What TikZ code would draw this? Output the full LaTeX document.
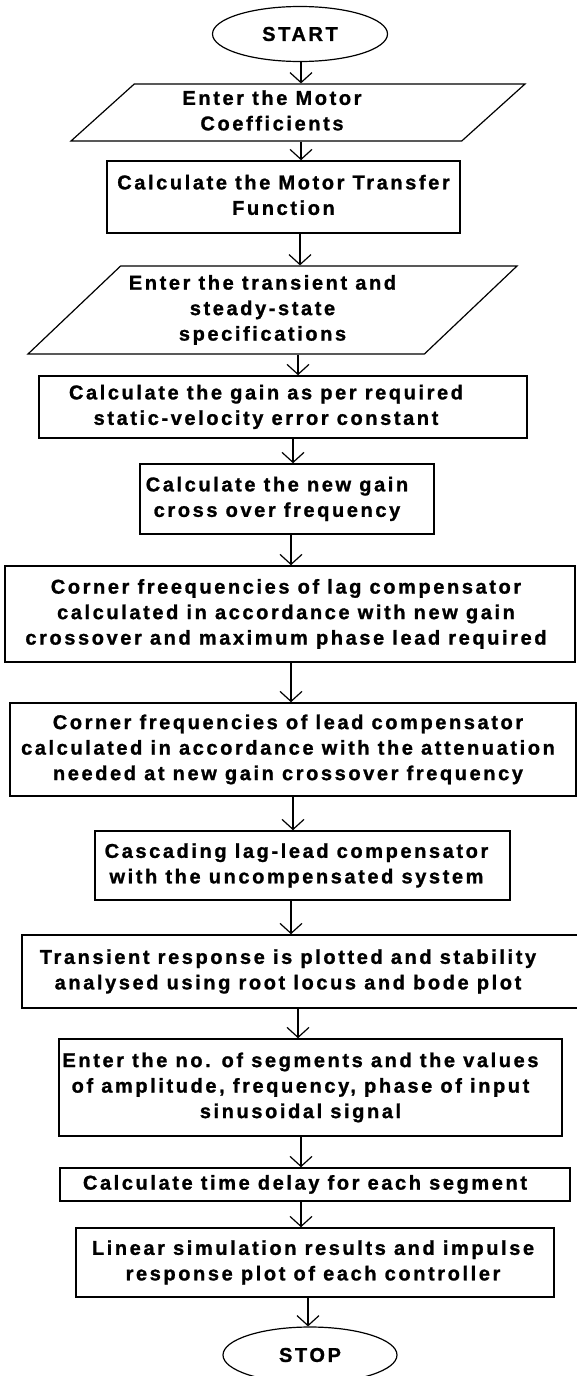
\documentclass[tikz,border=0pt]{standalone}
\usepackage{fontspec}
\usetikzlibrary{shapes.geometric, arrows.meta}
\newfontfamily\flowfont{Liberation Sans}[LetterSpace=13, BoldFeatures={FakeBold=1.2}]
\newcommand{\shifted}[2]{\hspace*{#1pt}\begin{tabular}{@{}c@{}}#2\end{tabular}\hspace*{-#1pt}}
\tikzstyle{terminal}=[ellipse, draw, line width=1.2pt, inner sep=0pt]
\tikzstyle{process}=[rectangle, draw, line width=1.6pt, inner sep=2pt]
\tikzstyle{io}=[trapezium, trapezium left angle=41, trapezium right angle=139, trapezium stretches body, draw, line width=1.2pt, inner sep=2pt]
\tikzstyle{flow}=[-{Straight Barb[length=10pt, width=22pt]}, line width=1.2pt]

\begin{document}
\begin{tikzpicture}[x=1pt, y=-1pt, font=\flowfont\bfseries\fontsize{20}{25.5}\selectfont]
    \useasboundingbox (0,0) rectangle (577,1376);
    \node[terminal, minimum width=175, minimum height=55] (start) at (300,34) {START};
    \node[io, minimum width=454, minimum height=57] (p1) at (298,112.5) {\shifted{-26}{Enter the Motor\\Coefficients}};
    \node[process, minimum width=353, minimum height=72] (b2) at (283.5,197) {\shifted{0}{Calculate the Motor Transfer\\Function}};
    \node[io, minimum width=489, minimum height=88] (p2) at (272.5,310) {\shifted{-10}{Enter the transient and\\steady-state\\specifications}};
    \node[process, minimum width=488, minimum height=62] (b4) at (283,407) {\shifted{-17}{Calculate the gain as per required\\static-velocity error constant}};
    \node[process, minimum width=294, minimum height=70] (b5) at (287,499) {\shifted{-10}{Calculate the new gain\\cross over frequency}};
    \node[process, minimum width=570, minimum height=96] (b6) at (290,614) {\shifted{-4}{Corner freequencies of lag compensator\\calculated in accordance with new gain\\crossover and maximum phase lead required}};
    \node[process, minimum width=566, minimum height=93] (b7) at (293,749.5) {\shifted{-5}{Corner frequencies of lead compensator\\calculated in accordance with the attenuation\\needed at new gain crossover frequency}};
    \node[process, minimum width=415, minimum height=69] (b8) at (302.5,865.5) {\shifted{-6}{Cascading lag-lead compensator\\with the uncompensated system}};
    \node[process, minimum width=578, minimum height=73] (b9) at (311,971.5) {\shifted{-23}{Transient response is plotted and stability\\analysed using root locus and bode plot}};
    \node[process, minimum width=503, minimum height=97] (b10) at (310.5,1087.5) {\shifted{-10}{Enter the no. of segments and the values\\of amplitude, frequency, phase of input\\sinusoidal signal}};
    \node[process, minimum width=510, minimum height=33] (b11) at (315,1184.5) {\shifted{-10}{Calculate time delay for each segment}};
    \node[process, minimum width=478, minimum height=69] (b12) at (315,1262.5) {\shifted{-2}{Linear simulation results and impulse\\response plot of each controller}};
    \node[terminal, minimum width=174, minimum height=56] (stop) at (310,1355) {STOP};

    \draw[flow] (start.south -| 301,0) -- (p1.north -| 301,0);
    \draw[flow] (p1.south -| 301,0) -- (b2.north -| 301,0);
    \draw[flow] (b2.south -| 300,0) -- (p2.north -| 300,0);
    \draw[flow] (p2.south -| 298,0) -- (b4.north -| 298,0);
    \draw[flow] (b4.south -| 293,0) -- (b5.north -| 293,0);
    \draw[flow] (b5.south -| 291,0) -- (b6.north -| 291,0);
    \draw[flow] (b6.south -| 291,0) -- (b7.north -| 291,0);
    \draw[flow] (b7.south -| 293,0) -- (b8.north -| 293,0);
    \draw[flow] (b8.south -| 291,0) -- (b9.north -| 291,0);
    \draw[flow] (b9.south -| 298,0) -- (b10.north -| 298,0);
    \draw[flow] (b10.south -| 301,0) -- (b11.north -| 301,0);
    \draw[flow] (b11.south -| 301,0) -- (b12.north -| 301,0);
    \draw[flow] (b12.south -| 308,0) -- (stop.north -| 308,0);
\end{tikzpicture}
\end{document}
